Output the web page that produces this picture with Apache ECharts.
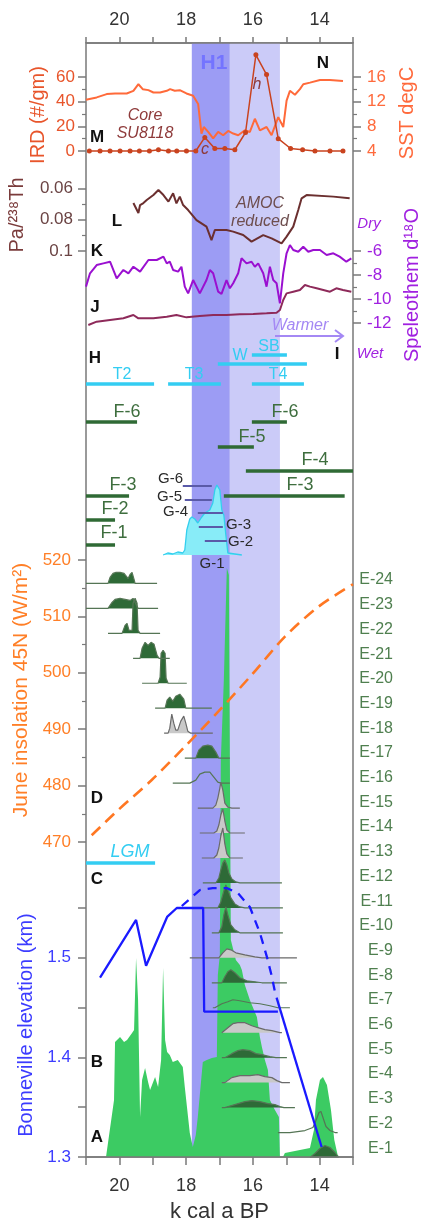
<!DOCTYPE html>
<html>
<head>
<meta charset="utf-8">
<script src="https://cdn.jsdelivr.net/npm/echarts@6/dist/echarts.min.js"></script>
<style>
  html, body { margin: 0; padding: 0; background: #fff; }
  #chart { width: 421px; height: 1220px; }
</style>
</head>
<body>
<div id="chart"></div>
<script>
// ---- data (ages in k cal a BP) ----
const h1Dark = [17.83, 16.69];
const h1Light = [16.69, 15.19];

// M: IRD, core SU8118
const irdAge = [20.90, 20.58, 20.28, 19.98, 19.68, 19.40, 19.10, 18.83, 18.53, 18.28, 17.99, 17.71, 17.44,
  17.14, 16.84, 16.54, 16.22, 15.91, 15.59, 15.24, 14.87, 14.51, 14.14, 13.69, 13.30];
const ird = [0, 0, 0, 0, 0, 0, 0, 1, 0, 0, 0, 0, 11, 2, 2, 1, 15, 78, 62, 10, 2, 1, 0, 0, 0];

// N: SST
const sstAge = [21.00, 20.68, 20.38, 20.13, 19.78, 19.58, 19.43, 19.30, 19.13, 18.98, 18.78, 18.58, 18.48,
  18.34, 18.19, 17.99, 17.79, 17.64, 17.54, 17.47, 17.34, 17.19, 17.04, 16.89, 16.74, 16.59, 16.44, 16.24,
  16.09, 15.94, 15.79, 15.59, 15.44, 15.24, 15.09, 14.99, 14.89, 14.74, 14.59, 14.49, 14.29, 13.99, 13.69, 13.30];
const sst = [12.32, 12.69, 13.23, 13.33, 13.33, 13.76, 14.83, 14.03, 13.87, 13.49, 13.49, 13.76, 14.03,
  13.76, 13.87, 13.33, 12.96, 11.63, 6.83, 7.89, 7.09, 6.03, 7.09, 6.56, 7.25, 6.83, 6.56, 7.36,
  7.09, 9.23, 7.36, 7.89, 6.56, 9.49, 7.89, 12.16, 13.76, 13.12, 14.03, 14.83, 15.09, 15.52, 15.52, 15.36];

// L: Pa/Th
const paAge = [19.58, 19.43, 19.38, 19.28, 19.18, 18.98, 18.83, 18.68, 18.53, 18.39, 18.29, 18.19, 18.09,
  17.94, 17.69, 17.39, 17.24, 17.14, 16.79, 16.59, 16.29, 16.04, 15.69, 15.44, 15.14, 14.99, 14.79, 14.64,
  14.54, 14.39, 13.59, 13.10];
const pa = [0.0693, 0.0757, 0.0706, 0.0693, 0.0674, 0.0642, 0.0610, 0.0642, 0.0684, 0.0631, 0.0695, 0.0652,
  0.0706, 0.0738, 0.0802, 0.0844, 0.0930, 0.0866, 0.0866, 0.0876, 0.0898, 0.0940, 0.0898, 0.0919, 0.0951,
  0.0908, 0.0844, 0.0738, 0.0663, 0.0642, 0.0652, 0.0663];

// K: speleothem d18O
const kAge = [21.00, 20.88, 20.68, 20.48, 20.28, 20.08, 19.88, 19.73, 19.58, 19.38, 19.13, 18.88, 18.68, 18.58,
  18.49, 18.39, 18.24, 18.14, 18.04, 17.94, 17.79, 17.59, 17.39, 17.29, 17.19, 17.04, 16.94, 16.79, 16.69,
  16.59, 16.44, 16.34, 16.19, 16.04, 15.94, 15.84, 15.69, 15.59, 15.49, 15.39, 15.29, 15.19, 15.09, 14.99,
  14.89, 14.79, 14.64, 14.49, 14.34, 14.19, 13.99, 13.79, 13.59, 13.40, 13.20, 13.05];
const kD18O = [-8.97, -7.86, -7.17, -7.03, -6.89, -8.28, -7.58, -7.86, -7.31, -7.72, -6.75, -6.75, -6.47, -7.03,
  -6.89, -7.58, -7.72, -7.31, -8.97, -9.53, -8.42, -9.53, -8.42, -7.58, -7.86, -9.39, -9.58, -8.42, -9.11,
  -8.69, -7.86, -6.61, -7.03, -6.89, -7.31, -7.03, -7.86, -8.97, -7.31, -8.42, -8.69, -10.36, -7.86, -6.19,
  -5.50, -5.92, -6.06, -5.64, -6.06, -5.92, -5.92, -6.33, -6.19, -6.47, -6.89, -6.61];

// J: second speleothem record
const jAge = [20.93, 20.68, 20.28, 19.88, 19.58, 19.43, 18.98, 18.58, 18.29, 17.99, 17.59, 17.19, 16.79, 16.39,
  15.99, 15.59, 15.29, 15.19, 15.09, 14.99, 14.79, 14.59, 14.44, 14.29, 14.09, 13.89, 13.69, 13.50, 13.30, 13.05];
const jD18O = [-12.17, -11.89, -11.75, -11.61, -11.33, -11.61, -11.61, -11.47, -11.33, -11.53, -11.42, -11.33,
  -11.33, -11.28, -11.25, -11.19, -11.14, -10.92, -10.08, -9.53, -9.39, -9.25, -8.83, -8.97, -9.11, -9.25,
  -9.39, -9.11, -9.25, -9.39];

// D: June insolation 45N
const insolAge = [20.83, 20.03, 19.03, 18.04, 17.04, 16.04, 15.04, 14.04, 13.00];
const insol = [471.2, 475.7, 481.0, 486.9, 493.1, 499.6, 506.4, 511.7, 515.7];

// B: Bonneville elevation (km)
const bonAge = [20.58, 19.50, 19.20, 18.57, 18.28, 17.49, 17.46, 15.25];
const bon = [1.480, 1.538, 1.492, 1.541, 1.550, 1.550, 1.446, 1.446];
const bonFallAge = [15.29, 13.94];
const bonFall = [1.460, 1.310];
const bonDashAge = [18.13, 17.59, 17.20, 16.78, 16.45, 16.09, 15.79, 15.58, 15.43, 15.31];
const bonDash = [1.552, 1.568, 1.570, 1.570, 1.565, 1.551, 1.525, 1.501, 1.481, 1.461];

// A: summed probability (relative)
const aAge = [20.40, 20.16, 20.13, 19.98, 19.86, 19.77, 19.62, 19.56, 19.50, 19.44, 19.38, 19.32, 19.23, 19.14,
  19.08, 18.93, 18.84, 18.75, 18.69, 18.63, 18.57, 18.49, 18.40, 18.25, 18.10, 18.04, 17.89, 17.80, 17.71,
  17.65, 17.50, 17.38, 17.23, 17.08, 17.05, 16.99, 16.96, 16.87, 16.78, 16.72, 16.69, 16.66, 16.51, 16.39,
  16.33, 16.24, 16.09, 15.88, 15.79, 15.73, 15.64, 15.55, 15.49, 15.34, 15.22, 15.19, 15.10, 15.04, 14.59,
  14.29, 14.17, 14.11, 13.99, 13.90, 13.78, 13.66, 13.56, 13.46, 13.40];
const aVal = [0, 5.7, 11.5, 12.0, 11.5, 11.7, 12.4, 12.7, 19.9, 15.7, 4.0, 7.7, 8.9, 7.5, 6.7, 8.0, 7.0, 9.7,
  18.9, 11.7, 10.5, 10.2, 9.5, 9.7, 9.0, 7.0, 2.4, 1.0, 2.2, 4.0, 9.5, 9.7, 9.9, 10.0, 18.2, 20.2, 39.7,
  47.7, 58.9, 58.2, 39.7, 21.7, 19.7, 19.2, 18.7, 17.2, 15.7, 14.0, 12.0, 11.0, 9.7, 8.7, 5.7, 4.7, 4.0, 0,
  0, 0.4, 0.7, 0.9, 2.7, 5.7, 7.7, 8.0, 7.2, 4.7, 1.7, 0.2, 0];

// G: cyan summed distribution
const gDistAge = [18.69, 18.55, 18.40, 18.25, 18.10, 18.04, 17.98, 17.89, 17.83, 17.74, 17.65, 17.53, 17.44,
  17.29, 17.20, 17.14, 17.08, 16.99, 16.93, 16.87, 16.81, 16.75, 16.33];
const gDist = [0, 2, 1, 3, 2, 5, 25, 36, 38, 36, 32, 38, 42, 45, 52, 65, 70, 65, 45, 40, 20, 2, 0];

// E: individual calibrated ages [age, relative probability]
const E24 = [[21.0, 0], [20.34, 0], [20.28, 6], [20.19, 10], [20.10, 11], [19.98, 11], [19.86, 10], [19.74, 5], [19.68, 9], [19.62, 11], [19.56, 4], [19.53, 0], [18.87, 0]];
const E23 = [[21.0, 0], [20.34, 0], [20.22, 6], [20.13, 9], [19.98, 10], [19.83, 9], [19.68, 8], [19.59, 10], [19.50, 4], [19.44, 0], [18.84, 0]];
const E22 = [[20.34, 0], [19.92, 0], [19.83, 8], [19.77, 10], [19.71, 3], [19.62, 3], [19.59, 30], [19.53, 35], [19.47, 30], [19.44, 3], [19.38, 0], [18.78, 0]];
const E21 = [[19.59, 0], [19.38, 0], [19.32, 10], [19.23, 16], [19.14, 13], [19.05, 16], [18.96, 14], [18.87, 3], [18.81, 0], [18.49, 0]];
const E20 = [[19.32, 0], [18.84, 0], [18.78, 6], [18.75, 30], [18.69, 33], [18.63, 30], [18.60, 5], [18.54, 0], [17.98, 0]];
const E19 = [[18.93, 0], [18.63, 0], [18.57, 8], [18.49, 11], [18.40, 7], [18.31, 12], [18.19, 14], [18.07, 9], [18.01, 0], [17.23, 0]];
const E18 = [[18.66, 0], [18.54, 0], [18.49, 5], [18.43, 19], [18.37, 10], [18.31, 3], [18.25, 3], [18.16, 12], [18.07, 17], [18.01, 10], [17.95, 2], [17.86, 0], [17.20, 0]];
const E17 = [[18.04, 0], [17.71, 0], [17.62, 8], [17.50, 12], [17.35, 13], [17.23, 12], [17.11, 6], [17.02, 0], [16.69, 0]];
const E16 = [[18.40, 0], [17.89, 0], [17.71, 3], [17.59, 9], [17.44, 11], [17.29, 11], [17.17, 6], [17.05, 1], [16.96, 0], [16.69, 0]];
const E15 = [[17.65, 0], [17.20, 0], [17.11, 3], [17.05, 10], [16.99, 20], [16.96, 26], [16.90, 18], [16.84, 5], [16.75, 1], [16.63, 0], [16.39, 0]];
const E14 = [[17.59, 0], [17.17, 0], [17.08, 2], [17.02, 8], [16.96, 18], [16.90, 24], [16.84, 12], [16.78, 3], [16.69, 0], [16.24, 0]];
const E13 = [[17.53, 0], [17.17, 0], [17.08, 3], [17.02, 10], [16.96, 22], [16.90, 30], [16.84, 14], [16.78, 4], [16.69, 0], [16.30, 0]];
const E12 = [[17.50, 0], [17.11, 0], [17.02, 5], [16.96, 13], [16.90, 20], [16.84, 23], [16.78, 18], [16.72, 10], [16.63, 4], [16.51, 1], [16.39, 0], [15.13, 0]];
const E11 = [[17.50, 0], [17.05, 0], [16.96, 6], [16.87, 17], [16.81, 23], [16.75, 18], [16.66, 10], [16.54, 4], [16.39, 1], [16.24, 0], [15.10, 0]];
const E10 = [[17.23, 0], [17.02, 0], [16.93, 6], [16.87, 18], [16.81, 26], [16.75, 18], [16.66, 8], [16.54, 3], [16.39, 0], [15.10, 0]];
const E9 = [[17.89, 0], [17.02, 0], [16.90, 5], [16.78, 9], [16.66, 8], [16.51, 5], [16.24, 3], [15.94, 1], [15.73, 0], [14.68, 0]];
const E8 = [[17.23, 0], [16.93, 0], [16.84, 6], [16.75, 11], [16.66, 13], [16.54, 10], [16.39, 5], [16.18, 2], [15.94, 1], [15.73, 0], [14.98, 0]];
const E7 = [[17.20, 0], [17.14, 0], [16.93, 4], [16.75, 6], [16.60, 8], [16.39, 7], [16.09, 5], [15.79, 4], [15.49, 2], [15.25, 0], [14.89, 0]];
const E6 = [[16.93, 0], [16.75, 5], [16.60, 9], [16.45, 10], [16.24, 10], [16.03, 7], [15.85, 5], [15.64, 3], [15.43, 2], [15.19, 0], [15.13, 0]];
const E5 = [[16.93, 0], [16.84, 0], [16.63, 4], [16.45, 7], [16.30, 8], [16.09, 7], [15.91, 4], [15.73, 3], [15.49, 1], [15.31, 0], [14.98, 0]];
const E4 = [[16.93, 0], [16.84, 0], [16.63, 5], [16.39, 7], [16.09, 7], [15.85, 8], [15.64, 6], [15.43, 5], [15.28, 2], [15.13, 0], [14.89, 0]];
const E3 = [[16.93, 0], [16.84, 0], [16.54, 3], [16.24, 6], [16.03, 7], [15.79, 6], [15.55, 4], [15.34, 3], [15.19, 1], [15.07, 0], [14.74, 0]];
const E2 = [[15.25, 0], [14.89, 0], [14.44, 2], [14.20, 5], [14.11, 12], [14.02, 20], [13.96, 21], [13.90, 15], [13.81, 6], [13.69, 2], [13.54, 0], [13.46, 0]];
const E1 = [[14.29, 0], [14.14, 4], [13.99, 9], [13.84, 12], [13.69, 10], [13.54, 5], [13.43, 0]];
const eRows = [E24, E23, E22, E21, E20, E19, E18, E17, E16, E15, E14, E13, E12, E11, E10, E9, E8, E7, E6, E5, E4, E3, E2, E1];
const eKind = ['d', 'd', 'd', 'd', 'd', 'd', 'g', 'd', 'o', 'g', 'g', 'g', 'd', 'd', 'd', 'g', 'd', 'o', 'g', 'd', 'g', 'd', 'o', 'd'];

// age ranges (bars)
const cyanName = ['SB', 'W', 'T2', 'T3', 'T4', 'LGM'];
const cyanFrom = [16.03, 17.05, 21.0, 18.54, 16.03, 21.0];
const cyanTo = [14.98, 14.38, 18.96, 16.96, 14.47, 18.93];
const fName = ['F-6', 'F-6', 'F-5', 'F-4', 'F-3', 'F-3', 'F-2', 'F-1'];
const fFrom = [21.0, 16.03, 17.05, 16.21, 21.0, 16.87, 21.0, 21.0];
const fTo = [19.47, 14.98, 15.97, 13.0, 19.71, 13.25, 20.13, 20.13];
const gName = ['G-6', 'G-5', 'G-4', 'G-3', 'G-2'];
const gFrom = [18.10, 18.04, 17.65, 17.62, 17.44];
const gTo = [17.23, 17.23, 16.90, 16.90, 16.78];

// ---- layout ----
const FONT = '"Liberation Sans", Arial, sans-serif';
const FRAME = '#7a7a7a';
const cyanLane = [355, 364, 384, 384, 384, 863];
const cyanLabel = [[269, 347], [240, 356], [122, 375], [194, 375], [278, 375], [130, 852]];
const fLane = [422, 422, 447, 471, 496, 496, 520, 545];
const fLabel = [[127, 412], [285, 412], [252, 437], [315, 460], [123, 485], [300, 485], [115, 509], [114, 533]];
const gLane = [486, 500, 513, 527, 541];
const gLabel = [[183, 479, 'right'], [182, 497, 'right'], [188, 512, 'right'], [226, 525, 'left'], [228, 542, 'left']];

const pairs = (xs, ys) => xs.map((x, i) => [x, ys[i]]);

const grids = [], xAxes = [], yAxes = [], series = [], graphics = [];
function addGrid(top, height, extra) {
  grids.push(Object.assign({ left: 86, right: 68, top: top, height: height, outerBoundsMode: 'none' }, extra || {}));
  return grids.length - 1;
}
function hiddenX(gi) {
  xAxes.push({ type: 'value', gridIndex: gi, min: 13, max: 21, inverse: true, show: false });
  return xAxes.length - 1;
}
function hiddenY(gi, min, max, inverse) {
  yAxes.push({ type: 'value', gridIndex: gi, min: min, max: max, inverse: !!inverse, show: false });
  return yAxes.length - 1;
}
const tickStyle = { color: FRAME, width: 1.5 };
const minor = { show: true, splitNumber: 2, length: 4, lineStyle: { color: FRAME, width: 1.2 } };
function panelY(gi, pos, o) {
  yAxes.push(Object.assign({
    type: 'value', gridIndex: gi, position: pos,
    axisLine: { show: false },
    axisTick: { show: true, length: 8, lineStyle: tickStyle },
    splitLine: { show: false }
  }, o));
  return yAxes.length - 1;
}
function txt(text, x, y, o, extra) {
  const style = Object.assign({
    text: text, fill: '#111', font: 'bold 17px ' + FONT,
    align: 'center', verticalAlign: 'middle', textAlign: 'center', textVerticalAlign: 'middle'
  }, o || {});
  if (style.align !== 'center') style.textAlign = style.align;
  graphics.push(Object.assign({ type: 'text', x: x, y: y, z: 50, silent: true, style: style }, extra || {}));
}
function vtxt(text, x, y, color, size) {
  txt(text, x, y, { fill: color, font: (size || 20) + 'px ' + FONT }, { rotation: Math.PI / 2 });
}

// frame grid, with top/bottom age axes and a lane axis in page pixels
const g0 = addGrid(43, 1114, { show: true, borderColor: FRAME, borderWidth: 1.5, backgroundColor: 'transparent' });
const ageAxisBase = {
  type: 'value', gridIndex: g0, min: 13, max: 21, interval: 1, inverse: true, z: 10,
  axisLine: { show: true, lineStyle: tickStyle },
  splitLine: { show: false },
  axisLabel: { fontSize: 18, color: '#333', fontFamily: FONT, formatter: v => (v % 2 === 0 ? String(v) : '') }
};
xAxes.push(Object.assign({}, ageAxisBase, {
  position: 'bottom', axisTick: { show: true, length: 8, lineStyle: tickStyle },
  axisLabel: Object.assign({}, ageAxisBase.axisLabel, { margin: 20 }),
  name: 'k cal a BP', nameLocation: 'middle', nameGap: 44,
  nameTextStyle: { fontSize: 22, color: '#333', fontFamily: FONT }
}));
xAxes.push(Object.assign({}, ageAxisBase, {
  position: 'top', axisTick: { show: true, length: 6, lineStyle: tickStyle },
  axisLabel: Object.assign({}, ageAxisBase.axisLabel, { margin: 14 })
}));
const laneY = hiddenY(g0, 43, 1157, true);

// H1 bands
series.push({
  type: 'line', xAxisIndex: 0, yAxisIndex: laneY, data: [], silent: true,
  markArea: {
    silent: true, label: { show: false },
    data: [
      [{ xAxis: h1Dark[0], itemStyle: { color: '#9c9cf4', opacity: 1 } }, { xAxis: h1Dark[1] }],
      [{ xAxis: h1Light[0], itemStyle: { color: '#cbcbf8', opacity: 1 } }, { xAxis: h1Light[1] }]
    ]
  }
});

// M/N: IRD + SST
const g1 = addGrid(77, 74);
const x1 = hiddenX(g1);
const yIrd = panelY(g1, 'left', { min: 0, max: 60, interval: 20, minorTick: minor,
  axisLabel: { color: '#e8552b', fontSize: 17, margin: 11, fontFamily: FONT } });
const ySst = panelY(g1, 'right', { min: 4, max: 16, interval: 4, minorTick: minor,
  axisLabel: { color: '#ff6a3c', fontSize: 17, margin: 14, fontFamily: FONT } });
series.push({ type: 'line', xAxisIndex: x1, yAxisIndex: ySst, data: pairs(sstAge, sst), symbol: 'none', clip: false,
  lineStyle: { color: '#ff6a3a', width: 2 } });
series.push({ type: 'line', xAxisIndex: x1, yAxisIndex: yIrd, data: pairs(irdAge, ird), clip: false,
  symbol: 'circle', symbolSize: 5, itemStyle: { color: '#c9431f' }, lineStyle: { color: '#c9431f', width: 1.5 } });

// L: Pa/Th
const g2 = addGrid(188.5, 62.5);
const x2 = hiddenX(g2);
const yPa = panelY(g2, 'left', { min: 0.06, max: 0.1, interval: 0.02, inverse: true, minorTick: minor,
  axisLabel: { color: '#6b4444', fontSize: 17, margin: 13, fontFamily: FONT, formatter: v => String(+v.toFixed(2)) } });
series.push({ type: 'line', xAxisIndex: x2, yAxisIndex: yPa, data: pairs(paAge, pa), symbol: 'none', clip: false,
  lineStyle: { color: '#6b2f2f', width: 2 } });

// K/J: speleothem d18O
const g3 = addGrid(251, 72);
const x3 = hiddenX(g3);
const yD = panelY(g3, 'right', { min: -12, max: -6, interval: 2, minorTick: minor,
  axisLabel: { color: '#a020e0', fontSize: 17, margin: 14, fontFamily: FONT } });
series.push({ type: 'line', xAxisIndex: x3, yAxisIndex: yD, data: pairs(jAge, jD18O), symbol: 'none', clip: false,
  lineStyle: { color: '#8e2a5a', width: 2 } });
series.push({ type: 'line', xAxisIndex: x3, yAxisIndex: yD, data: pairs(kAge, kD18O), symbol: 'none', clip: false,
  lineStyle: { color: '#9a10d0', width: 2 } });

// A: green summed probability
const gA = addGrid(557, 600);
const xA = hiddenX(gA);
const yA = hiddenY(gA, 0, 60);
series.push({ type: 'line', xAxisIndex: xA, yAxisIndex: yA, data: pairs(aAge, aVal), symbol: 'none', clip: false,
  lineStyle: { width: 0 }, areaStyle: { color: '#3ccb63', opacity: 1 } });

// D: insolation
const g4 = addGrid(560, 282);
const x4 = hiddenX(g4);
const yIns = panelY(g4, 'left', { min: 470, max: 520, interval: 10, minorTick: minor,
  axisLabel: { color: '#ff7f27', fontSize: 17, margin: 15, fontFamily: FONT } });

// G: cyan distribution
const gG = addGrid(485, 70);
const xG = hiddenX(gG);
const yG = hiddenY(gG, 0, 70);
series.push({ type: 'line', xAxisIndex: xG, yAxisIndex: yG, data: pairs(gDistAge, gDist), symbol: 'none', clip: false,
  lineStyle: { color: '#33cfee', width: 1.3 }, areaStyle: { color: '#88ecf8', opacity: 1 } });

// E rows
eRows.forEach((row, i) => {
  const n = 24 - i;
  const base = 1157.5 - (n - 1) * 24.96;
  const gi = addGrid(base - 25, 25);
  const xi = hiddenX(gi);
  const yi = hiddenY(gi, 0, 25);
  const k = eKind[i];
  const s = { type: 'line', xAxisIndex: xi, yAxisIndex: yi, data: row, symbol: 'none', clip: false,
    lineStyle: { color: k === 'g' ? '#6a6a6a' : '#557555', width: 1.2 } };
  if (k !== 'o') s.areaStyle = { color: k === 'd' ? '#2e6a37' : '#c9c9c9', opacity: 1 };
  series.push(s);
  txt('E-' + n, 393, 580 + (24 - n) * 24.7, { fill: '#4f7f4f', font: '16px ' + FONT, align: 'right' });
});

// insolation line (drawn over the distributions)
series.push({ type: 'line', xAxisIndex: x4, yAxisIndex: yIns, data: pairs(insolAge, insol), symbol: 'none', clip: false,
  smooth: 0.3, lineStyle: { color: '#ff7722', width: 2.6, type: [12, 7] } });

// B: Bonneville
const g5 = addGrid(908, 249);
const x5 = hiddenX(g5);
const yBon = panelY(g5, 'left', { min: 1.3, max: 1.55, interval: 0.05,
  axisLabel: { color: '#3c3cff', fontSize: 17, margin: 15, fontFamily: FONT,
    formatter: v => (Math.round(v * 100) % 10 === 0 ? v.toFixed(1) : '') } });
const bonLine = { color: '#1a1aff', width: 2.3 };
series.push({ type: 'line', xAxisIndex: x5, yAxisIndex: yBon, data: pairs(bonAge, bon), symbol: 'none', clip: false, lineStyle: bonLine });
series.push({ type: 'line', xAxisIndex: x5, yAxisIndex: yBon, data: pairs(bonFallAge, bonFall), symbol: 'none', clip: false, lineStyle: bonLine });
series.push({ type: 'line', xAxisIndex: x5, yAxisIndex: yBon, data: pairs(bonDashAge, bonDash), symbol: 'none', clip: false,
  lineStyle: Object.assign({}, bonLine, { type: [9, 7] }) });

// range bars on the lane axis
function rangeBars(from, to, lanes, color, width) {
  from.forEach((a, i) => {
    series.push({ type: 'line', xAxisIndex: 0, yAxisIndex: laneY, data: [[a, lanes[i]], [to[i], lanes[i]]],
      symbol: 'none', clip: false, lineStyle: { color: color, width: width } });
  });
}
rangeBars(cyanFrom, cyanTo, cyanLane, '#33cdf2', 3.5);
rangeBars(fFrom, fTo, fLane, '#2f6a35', 3.5);
rangeBars(gFrom, gTo, gLane, '#5a5aa8', 2);

cyanName.forEach((t, i) => txt(t, cyanLabel[i][0], cyanLabel[i][1],
  { fill: '#33cdf2', font: (t === 'LGM' ? 'italic 18px ' : '16px ') + FONT }));
fName.forEach((t, i) => txt(t, fLabel[i][0], fLabel[i][1], { fill: '#3e6e3e', font: '18px ' + FONT }));
gName.forEach((t, i) => txt(t, gLabel[i][0], gLabel[i][1], { fill: '#2a2a2a', font: '15px ' + FONT, align: gLabel[i][2] }));
txt('G-1', 212, 564, { fill: '#2a2a2a', font: '15px ' + FONT });

// panel letters and notes
[['N', 323, 63], ['M', 97, 137], ['L', 117, 221], ['K', 97, 251], ['J', 95, 307], ['H', 95, 358],
 ['I', 337, 354], ['D', 97, 798], ['C', 97, 879], ['B', 97, 1062], ['A', 97, 1137]]
  .forEach(p => txt(p[0], p[1], p[2]));
txt('H1', 214, 63, { fill: '#7474ff', font: 'bold 21px ' + FONT });
txt('Core', 145, 116, { fill: '#8e3a3a', font: 'italic 16px ' + FONT });
txt('SU8118', 145, 134, { fill: '#8e3a3a', font: 'italic 16px ' + FONT });
txt('c', 205, 150, { fill: '#8e3a3a', font: 'italic 16px ' + FONT });
txt('h', 257, 85, { fill: '#8e3a3a', font: 'italic 16px ' + FONT });
txt('AMOC', 260, 204, { fill: '#6e4e4e', font: 'italic 16px ' + FONT });
txt('reduced', 260, 222, { fill: '#6e4e4e', font: 'italic 16px ' + FONT });
txt('Dry', 369, 224, { fill: '#a020e0', font: 'italic 15px ' + FONT });
txt('Wet', 370, 354, { fill: '#a020e0', font: 'italic 15px ' + FONT });
txt('Warmer', 300, 326, { fill: '#a488f4', font: 'italic 16px ' + FONT });
graphics.push({ type: 'polyline', z: 50, silent: true, shape: { points: [[275, 336], [343, 336]] },
  style: { stroke: '#a488f4', lineWidth: 2, fill: null } });
graphics.push({ type: 'polyline', z: 50, silent: true, shape: { points: [[335, 330], [343, 336], [335, 342]] },
  style: { stroke: '#a488f4', lineWidth: 2, fill: null } });

// rotated axis titles
vtxt('IRD (#/gm)', 38, 115, '#e8552b');
vtxt('SST degC', 407, 113, '#ff6a3c');
vtxt('Pa/²³⁸Th', 17, 215, '#7a3b3b');
vtxt('Speleothem d¹⁸O', 412, 285, '#a020e0');
vtxt('June insolation 45N (W/m²)', 21, 690, '#ff7f27', 21);
vtxt('Bonneville elevation (km)', 26, 1025, '#3c3cff');

const chart = echarts.init(document.getElementById('chart'));
chart.setOption({
  animation: false,
  backgroundColor: '#fff',
  grid: grids,
  xAxis: xAxes,
  yAxis: yAxes,
  series: series,
  graphic: { elements: graphics }
});
window.addEventListener('resize', () => chart.resize());
</script>
</body>
</html>
